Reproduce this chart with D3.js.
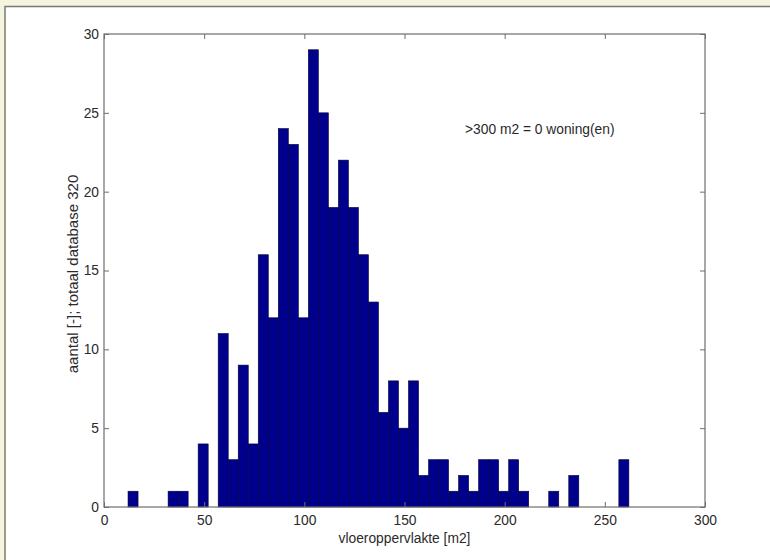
<!DOCTYPE html>
<html>
<head>
<meta charset="utf-8">
<script src="https://cdn.jsdelivr.net/npm/d3@7/dist/d3.min.js"></script>
<style>
  html, body { margin: 0; padding: 0; background: #fff; }
  svg text { font-family: "Liberation Sans", Arial, sans-serif; fill: #2a2a2a; }
</style>
</head>
<body>
<svg id="chart" width="770" height="560"></svg>
<script>
// Histogram bins (left edge of each 5 m2 bin) and counts
const binLeft = [12,17,22,27,32,37,42,47,52,57,62,67,72,77,82,87,92,97,102,107,
                 112,117,122,127,132,137,142,147,152,157,162,167,172,177,182,187,192,197,202,207,
                 212,217,222,227,232,237,242,247,252,257];
const binWidth = 5;
const counts = [1,0,0,0,1,1,0,4,0,11,3,9,4,16,12,24,23,12,29,25,
                19,22,19,16,13,6,8,5,8,2,3,3,1,2,1,3,3,1,3,1,
                0,0,1,0,2,0,0,0,0,3];
const xTicks = [0,50,100,150,200,250,300];
const yTicks = [0,5,10,15,20,25,30];
const xLabel = "vloeroppervlakte [m2]";
const yLabel = "aantal [-]; totaal database 320";
const note = ">300 m2 = 0 woning(en)";

const FS = "13.8px";
const svg = d3.select("#chart");
// outer frame
svg.append("rect").attr("x",0).attr("y",0).attr("width",770).attr("height",560).attr("fill","#f4f4df");
svg.append("rect").attr("x",5).attr("y",6.5).attr("width",770).attr("height",560).attr("fill","#fff")
   .attr("stroke","#7a7a70").attr("stroke-width",1.5);

const L = 104, R = 705, T = 34, B = 507;
const x = d3.scaleLinear().domain([0,300]).range([L,R]);
const y = d3.scaleLinear().domain([0,30]).range([B,T]);

const data = binLeft.map((b,i)=>({x0:b, x1:b+binWidth, n:counts[i]}));
svg.append("g").selectAll("rect").data(data.filter(d=>d.n>0)).join("rect")
  .attr("x", d=>x(d.x0)).attr("width", d=>x(d.x1)-x(d.x0))
  .attr("y", d=>y(d.n)).attr("height", d=>y(0)-y(d.n))
  .attr("fill","#00008c").attr("stroke","#000033").attr("stroke-width",0.6);

const axisColor = "#6e6e6e";
// box
svg.append("rect").attr("x",L).attr("y",T).attr("width",R-L).attr("height",B-T)
  .attr("fill","none").attr("stroke",axisColor).attr("stroke-width",1.2);

const tl = 5;
function styleAxis(g){
  g.select(".domain").remove();
  g.selectAll(".tick line").attr("stroke",axisColor).attr("stroke-width",1);
  g.selectAll(".tick text").attr("font-size",FS).attr("fill","#2a2a2a");
}
// bottom axis (ticks inward)
svg.append("g").attr("transform",`translate(0,${B})`)
  .call(d3.axisBottom(x).tickValues(xTicks).tickSizeInner(-tl).tickSizeOuter(0).tickPadding(8))
  .call(styleAxis);
// top ticks
svg.append("g").attr("transform",`translate(0,${T})`)
  .call(d3.axisTop(x).tickValues(xTicks).tickSizeInner(-tl).tickSizeOuter(0).tickFormat(""))
  .call(styleAxis);
// left axis
svg.append("g").attr("transform",`translate(${L},0)`)
  .call(d3.axisLeft(y).tickValues(yTicks).tickSizeInner(-tl).tickSizeOuter(0).tickPadding(5))
  .call(styleAxis);
// right ticks
svg.append("g").attr("transform",`translate(${R},0)`)
  .call(d3.axisRight(y).tickValues(yTicks).tickSizeInner(-tl).tickSizeOuter(0).tickFormat(""))
  .call(styleAxis);

svg.append("text").attr("x",(L+R)/2).attr("y",543).attr("text-anchor","middle")
  .attr("font-size",FS).text(xLabel);
svg.append("text").attr("transform",`translate(78,274) rotate(-90)`).attr("text-anchor","middle")
  .attr("font-size","15px").text(yLabel);
svg.append("text").attr("x",465).attr("y",134).attr("font-size",FS).text(note);
</script>
</body>
</html>
